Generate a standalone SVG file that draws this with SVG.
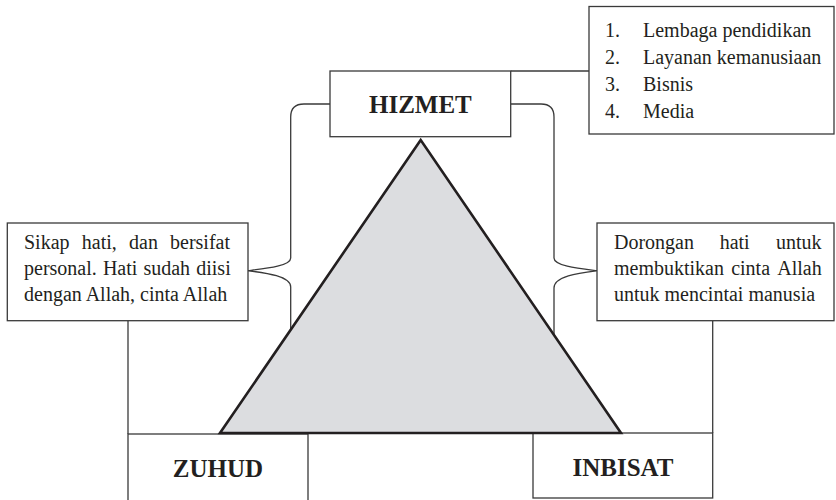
<svg xmlns="http://www.w3.org/2000/svg" width="836" height="500" viewBox="0 0 836 500">
<style>
.box{fill:#fff;stroke:#3a3a3a;stroke-width:1.3}
.ln{fill:none;stroke:#3a3a3a;stroke-width:1.3}
text{font-family:'Liberation Serif','Times New Roman',serif;fill:#231f20}
.t{font-size:20px;font-weight:normal}
.b{font-size:25px;font-weight:bold;text-anchor:middle}
</style>
<rect width="836" height="500" fill="#fff"/>
<g id="connectors">
<path class="ln" d="M510.7 71 H589"/>
<path class="ln" d="M330 104 H304 Q290.7 104 290.7 117 V258 C290.7 266 266 268.5 248 270.7 C266 273 290.7 276 290.7 287 V331"/>
<path class="ln" d="M510.7 104 H541 Q554 104 554 117 V258 C554 266 579 268.5 597 270.7 C579 273 554 276 554 288 V336"/>
<path class="ln" d="M128 320.7 V434"/>
<path class="ln" d="M712.7 320.7 V433"/>
</g>
<g id="hizmet">
<rect class="box" x="330" y="71" width="180.7" height="65.7"/>
<text class="b" x="420.4" y="113">HIZMET</text>
</g>
<g id="list">
<rect class="box" x="589" y="6.5" width="245" height="127.5"/>
<text class="t" x="605" y="37">1.</text><text class="t" x="643" y="37">Lembaga pendidikan</text>
<text class="t" x="605" y="64">2.</text><text class="t" x="643" y="64">Layanan kemanusiaan</text>
<text class="t" x="605" y="91">3.</text><text class="t" x="643" y="91">Bisnis</text>
<text class="t" x="605" y="118">4.</text><text class="t" x="643" y="118">Media</text>
</g>
<g id="zuhud-desc">
<rect class="box" x="7.3" y="223" width="240.7" height="97.7"/>
<text class="t" y="249"><tspan x="24">Sikap</tspan><tspan x="81.8">hati,</tspan><tspan x="129">dan</tspan><tspan x="230" text-anchor="end">bersifat</tspan></text>
<text class="t" y="275"><tspan x="24">personal.</tspan><tspan x="102.9">Hati</tspan><tspan x="143.4">sudah</tspan><tspan x="230.7" text-anchor="end">diisi</tspan></text>
<text class="t" x="24" y="301">dengan Allah, cinta Allah</text>
</g>
<g id="inbisat-desc">
<rect class="box" x="597" y="223" width="237" height="97.7"/>
<text class="t" y="249"><tspan x="614">Dorongan</tspan><tspan x="719.7">hati</tspan><tspan x="821.5" text-anchor="end">untuk</tspan></text>
<text class="t" y="275"><tspan x="614">membuktikan</tspan><tspan x="731.2">cinta</tspan><tspan x="821.7" text-anchor="end">Allah</tspan></text>
<text class="t" x="614" y="301">untuk mencintai manusia</text>
</g>
<g id="zuhud">
<rect class="box" x="128" y="434" width="180" height="70"/>
<text class="b" x="218" y="476.7">ZUHUD</text>
</g>
<g id="inbisat">
<rect class="box" x="533" y="433" width="179.7" height="65"/>
<text class="b" x="623" y="475.5">INBISAT</text>
</g>
<g id="triangle">
<polygon points="420.7,140 220,433 621,433" fill="#dcdde0" stroke="#231f20" stroke-width="2.6" stroke-linejoin="miter"/>
</g>
</svg>
